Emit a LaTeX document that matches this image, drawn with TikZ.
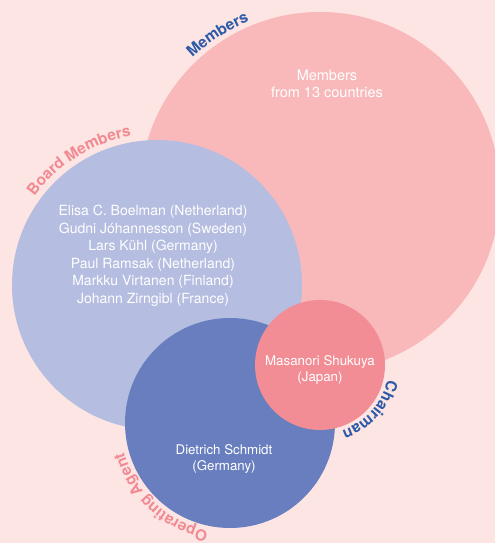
\documentclass[tikz,border=0pt]{standalone}
\usepackage{fontspec}
\setmainfont{TeX Gyre Heros}
\usetikzlibrary{decorations.text}
\definecolor{bgpink}{HTML}{FDE5E3}
\definecolor{memberpink}{HTML}{F9B8BA}
\definecolor{boardblue}{HTML}{B5BDE0}
\definecolor{agentblue}{HTML}{687EBF}
\definecolor{chairpink}{HTML}{F38D95}
\definecolor{lblblue}{HTML}{2C5AA8}
\definecolor{lblpink}{HTML}{F28A93}
\newcommand\arclabelfont{\bfseries\fontsize{15.5}{15.5}\selectfont}
\begin{document}
\begin{tikzpicture}[x=1pt, y=1pt,
        ring/.style={circle, inner sep=0pt, minimum size=#1},
        names/.style={text=white, align=center, font=\fontsize{14}{17.5}\selectfont},
        smallnames/.style={names, font=\fontsize{13.3}{16}\selectfont},
        arclabel/.style={decorate, decoration={text along path, text align=center, text={#1}}}]
    \fill[bgpink] (0,0) rectangle (495,543);
    \useasboundingbox (0,0) rectangle (495,543);
    \clip (0,0) rectangle (495,543);
    % circles
    \node[ring=360pt, fill=memberpink] (members) at (320,351) {};
    \node[ring=290pt, fill=boardblue] (board) at (157,258) {};
    \node[ring=210pt, fill=agentblue] (agent) at (230,120) {};
    \node[ring=130pt, fill=chairpink] (chair) at (320,178) {};
    % texts
    \node[names, font=\fontsize{14.5}{17}\selectfont] (membertext) at (327,459.5) {Members\\from 13 countries};
    \node[names] (boardtext) at (153,287) {Elisa C. Boelman (Netherland)\\Gudni Jóhannesson (Sweden)\\Lars Kühl (Germany)\\Paul Ramsak (Netherland)\\Markku Virtanen (Finland)\\Johann Zirngibl (France)};
    \node[smallnames] (chairtext) at (320,173) {Masanori Shukuya\\(Japan)};
    \node[smallnames] (agenttext) at (224,84) {Dietrich Schmidt\\(Germany)};
    % curved labels
    \path[arclabel={|\arclabelfont\color{lblblue}|Members}] (members.center) ++(143:185) arc[start angle=143, end angle=103, radius=185];
    \path[arclabel={|\arclabelfont\color{lblpink}|Board Members}] (board.center) ++(160:151) arc[start angle=160, end angle=84, radius=151];
    \path[arclabel={|\arclabelfont\color{lblblue}|Chairman}] (chair.center) ++(10:69) arc[start angle=10, end angle=-94, radius=69];
    \path[arclabel={|\arclabelfont\color{lblpink}|Operating Agent}] (agent.center) ++(-73:110) arc[start angle=-73, end angle=-193, radius=110];
\end{tikzpicture}
\end{document}
